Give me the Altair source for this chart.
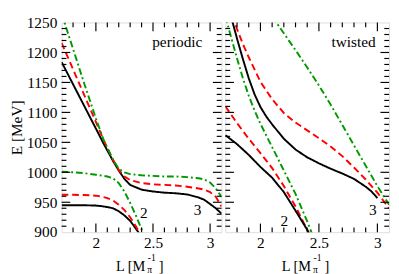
import altair as alt
import pandas as pd
import numpy as np

FONT = "Liberation Serif"

# ---------------- periodic panel ----------------
P_UP_L = [1.70, 1.80, 1.90, 2.00, 2.07, 2.15, 2.20, 2.25, 2.30, 2.40, 2.50, 2.60, 2.70, 2.80, 2.90, 2.95, 3.00, 3.05, 3.10]
P_UP_BLACK = [1184, 1147, 1110, 1073, 1047, 1019, 1003, 989, 979, 971, 968, 966, 965, 963, 958, 954, 947, 940, 931]
P_UP_RED = [1216, 1172, 1128, 1084, 1053, 1021, 1004, 993, 987, 982, 980, 979, 978, 976, 973, 971, 967, 959, 943]
P_UP_GREEN = [1265, 1206, 1147, 1090, 1053, 1021, 1006, 1000, 997, 995, 994, 993, 993, 992, 990, 988, 983, 973, 959]

P_LO_L = [1.70, 1.80, 1.90, 2.00, 2.05, 2.10, 2.15, 2.20, 2.25, 2.30, 2.35, 2.40]
P_LO_BLACK = [945, 945, 945, 944.5, 943.5, 942, 940, 935, 928, 919, 906, 892]
P_LO_RED = [962.5, 962.5, 962, 961, 959.5, 957, 953, 946, 937, 925, 910, 893]
P_LO_GREEN_L = [1.70, 1.80, 1.90, 2.00, 2.10, 2.15, 2.20, 2.25, 2.30, 2.35, 2.40, 2.45]
P_LO_GREEN = [1001, 1000, 998.5, 996, 993, 990, 982, 968, 949, 928, 905, 882]

P_LABEL_TEXT = ["2", "3"]
P_LABEL_L = [2.42, 2.89]
P_LABEL_E = [932, 937]

# ---------------- twisted panel ----------------
T_UP_BLACK_L = [1.75, 1.80, 1.85, 1.90, 1.95, 2.00, 2.05, 2.10, 2.20, 2.30, 2.40, 2.50, 2.60, 2.70, 2.80, 2.90, 2.95, 3.00]
T_UP_BLACK = [1259, 1223, 1189, 1157, 1130, 1109, 1093, 1080, 1056, 1038, 1025, 1015, 1006, 998, 989, 976, 968, 957]
T_UP_RED_L = [1.76, 1.80, 1.85, 1.90, 2.00, 2.10, 2.20, 2.30, 2.40, 2.50, 2.60, 2.70, 2.80, 2.90, 3.00, 3.10]
T_UP_RED = [1262, 1239, 1214, 1192, 1151, 1122, 1099, 1083, 1070, 1057, 1043, 1027, 1008, 988, 966, 940]
T_UP_GREEN_L = [2.10, 2.20, 2.30, 2.40, 2.50, 2.60, 2.70, 2.80, 2.90, 3.00, 3.10]
T_UP_GREEN = [1260, 1232, 1204, 1175, 1145, 1113, 1079, 1045, 1011, 977, 946]
T_LO_GREEN_L = [1.70, 1.75, 1.80, 1.85, 1.90, 1.95, 2.00, 2.10, 2.20, 2.30, 2.40, 2.45]
T_LO_GREEN = [1260, 1225, 1190, 1157, 1128, 1103, 1081, 1042, 1003, 964, 918, 893]
T_LO_L = [1.70, 1.80, 1.90, 2.00, 2.10, 2.20, 2.30, 2.40, 2.45]
T_LO_RED = [1110, 1082, 1056, 1032, 1007, 977, 943, 904, 884]
T_LO_BLACK = [1062, 1047, 1029, 1009, 991, 967, 936, 904, 886]

T_LABEL_TEXT = ["2", "3"]
T_LABEL_L = [2.204, 2.96]
T_LABEL_E = [919, 936]

# ---------------- axes ----------------
X_DOMAIN = [1.7, 3.1]
Y_DOMAIN = [900, 1250]
X_LABELS = [2.0, 2.5, 3.0]
Y_LABELS = [900, 950, 1000, 1050, 1100, 1150, 1200, 1250]
X_MAJOR = [2.0, 2.5, 3.0]
X_MINOR = [round(v, 1) for v in np.arange(1.8, 3.05, 0.1) if round(v, 1) not in (2.0, 2.5, 3.0)]
Y_MAJOR = [950, 1000, 1050, 1100, 1150, 1200]
Y_MINOR = [v for v in range(910, 1250, 10) if v % 50 != 0]

STYLES = ["solid", "dash", "dashdot"]
STYLE_COLORS = ["#000000", "#ff0000", "#009a00"]
STYLE_DASH = [[1, 0], [7, 4], [7, 3, 2, 3]]

XS = alt.Scale(domain=X_DOMAIN, nice=False, zero=False)
YS = alt.Scale(domain=Y_DOMAIN, nice=False, zero=False)

H = 219
W_LEFT = 167
W_RIGHT = 171
MAJ = 9
MIN = 5

XAXIS = alt.Axis(values=X_LABELS, format="~g", title=None, tickSize=0, domain=False, grid=False,
                 labelFont=FONT, labelFontSize=16, labelColor="black", labelPadding=3)
YAXIS_L = alt.Axis(values=Y_LABELS, format="d", title="E [MeV]", tickSize=0, domain=False, grid=False,
                   labelFont=FONT, labelFontSize=16, labelColor="black", labelPadding=5,
                   titleFont=FONT, titleFontSize=16, titleFontWeight="normal", titleColor="black",
                   titlePadding=2)
YAXIS_R = alt.Axis(values=Y_LABELS, format="d", title=None, tickSize=0, domain=False, grid=False,
                   labels=False, ticks=False)


def curves_df(curves):
    rows = []
    for cid, style, xs, ys in curves:
        for x, y in zip(xs, ys):
            rows.append(dict(L=x, E=y, style=style, curve=cid))
    return pd.DataFrame(rows)


def tick_layers(W, yaxis):
    layers = []
    for vals, ln in ((X_MAJOR, MAJ), (X_MINOR, MIN)):
        d = pd.DataFrame({"L": vals})
        layers.append(alt.Chart(d).mark_rule(color="black", strokeWidth=1.2).encode(
            x=alt.X("L:Q", scale=XS, axis=XAXIS), y=alt.value(H), y2=alt.value(H - ln)))
        layers.append(alt.Chart(d).mark_rule(color="black", strokeWidth=1.2).encode(
            x=alt.X("L:Q", scale=XS, axis=XAXIS), y=alt.value(0), y2=alt.value(ln)))
    for vals, ln in ((Y_MAJOR, MAJ), (Y_MINOR, MIN)):
        d = pd.DataFrame({"E": vals})
        layers.append(alt.Chart(d).mark_rule(color="black", strokeWidth=1.2).encode(
            y=alt.Y("E:Q", scale=YS, axis=yaxis), x=alt.value(0), x2=alt.value(ln)))
        layers.append(alt.Chart(d).mark_rule(color="black", strokeWidth=1.2).encode(
            y=alt.Y("E:Q", scale=YS, axis=yaxis), x=alt.value(W), x2=alt.value(W - ln)))
    return layers


def xtitle_layers(W):
    c = W / 2.0
    parts = [
        ("L [M", 15, "right", c + 4, H + 40),
        ("π", 10, "left", c + 6, H + 43),
        ("-1", 10, "left", c + 6.5, H + 30),
        ("]", 15, "left", c + 18, H + 40),
    ]
    out = []
    for t, fs, al, xx, yy in parts:
        out.append(alt.Chart(pd.DataFrame({"t": [t]})).mark_text(
            font=FONT, fontSize=fs, align=al, baseline="alphabetic", color="black").encode(
            x=alt.value(xx), y=alt.value(yy), text="t:N"))
    return out


def panel(df, lab_text, lab_l, lab_e, name, name_x, W, yaxis):
    lines = alt.Chart(df).mark_line(clip=True, strokeWidth=2).encode(
        x=alt.X("L:Q", scale=XS, axis=XAXIS),
        y=alt.Y("E:Q", scale=YS, axis=yaxis),
        color=alt.Color("style:N", scale=alt.Scale(domain=STYLES, range=STYLE_COLORS), legend=None),
        strokeDash=alt.StrokeDash("style:N", scale=alt.Scale(domain=STYLES, range=STYLE_DASH), legend=None),
        detail="curve:N",
        order=alt.Order("L:Q"),
    )
    labs = alt.Chart(pd.DataFrame({"L": lab_l, "E": lab_e, "t": lab_text})).mark_text(
        font=FONT, fontSize=16, color="black", align="center", baseline="middle").encode(
        x=alt.X("L:Q", scale=XS, axis=XAXIS), y=alt.Y("E:Q", scale=YS, axis=yaxis), text="t:N")
    nm = alt.Chart(pd.DataFrame({"t": [name]})).mark_text(
        font=FONT, fontSize=16, color="black", align="right", baseline="alphabetic").encode(
        x=alt.value(name_x), y=alt.value(26), text="t:N")
    return alt.layer(lines, labs, nm, *tick_layers(W, yaxis), *xtitle_layers(W)).properties(width=W, height=H)


p_df = curves_df([
    ("pu_b", "solid", P_UP_L, P_UP_BLACK),
    ("pu_r", "dash", P_UP_L, P_UP_RED),
    ("pu_g", "dashdot", P_UP_L, P_UP_GREEN),
    ("pl_b", "solid", P_LO_L, P_LO_BLACK),
    ("pl_r", "dash", P_LO_L, P_LO_RED),
    ("pl_g", "dashdot", P_LO_GREEN_L, P_LO_GREEN),
])
t_df = curves_df([
    ("tu_b", "solid", T_UP_BLACK_L, T_UP_BLACK),
    ("tu_r", "dash", T_UP_RED_L, T_UP_RED),
    ("tu_g", "dashdot", T_UP_GREEN_L, T_UP_GREEN),
    ("tl_g", "dashdot", T_LO_GREEN_L, T_LO_GREEN),
    ("tl_r", "dash", T_LO_L, T_LO_RED),
    ("tl_b", "solid", T_LO_L, T_LO_BLACK),
])

left = panel(p_df, P_LABEL_TEXT, P_LABEL_L, P_LABEL_E, "periodic", 147, W_LEFT, YAXIS_L)
right = panel(t_df, T_LABEL_TEXT, T_LABEL_L, T_LABEL_E, "twisted", 157, W_RIGHT, YAXIS_R)

chart = alt.hconcat(left, right, spacing=0).properties(
    padding={"left": 0, "top": 0, "right": 0, "bottom": 4}
).configure_view(stroke="black", strokeWidth=1.5).configure(background="white")

chart.save("out.html", embed_options={"renderer": "svg", "actions": False})
